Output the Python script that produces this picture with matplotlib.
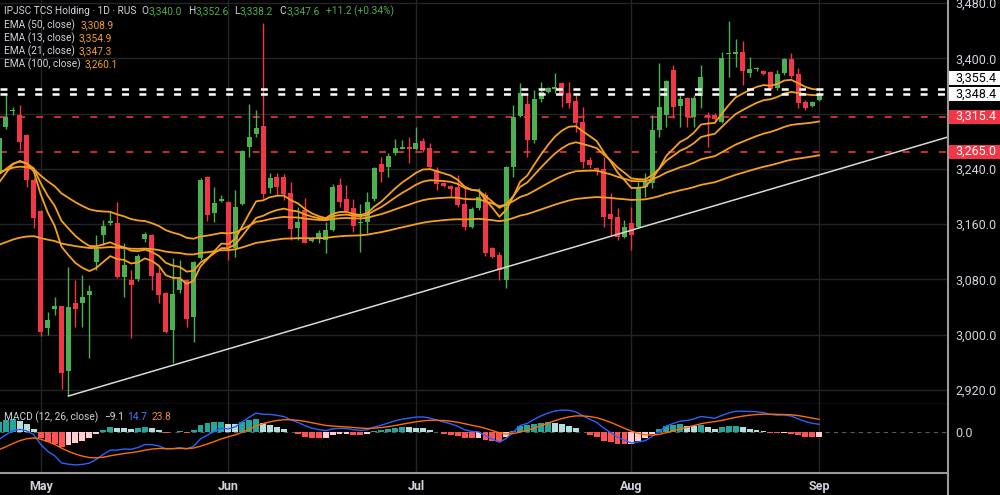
import matplotlib
matplotlib.use("Agg")
import matplotlib.pyplot as plt
from matplotlib.patches import Rectangle
from matplotlib.lines import Line2D
import numpy as np

# ---------------- data ----------------
opens = [3233.5, 3300.1, 3323.7, 3317.9, 3288.9, 3223.8, 3179.3, 3009.0, 3036.5, 3041.3,
         2947.2, 3046.1, 3045.2, 3056.8, 3105.5, 3144.1, 3162.0, 3161.9, 3082.9, 3079.0,
         3080.0, 3138.3, 3144.6, 3089.5, 3059.7, 3006.6, 3064.5, 3079.0, 3025.8, 3110.4,
         3227.7, 3176.4, 3193.4, 3192.3, 3124.9, 3189.4, 3272.0, 3290.4, 3302.0, 3211.7,
         3227.7, 3227.7, 3205.4, 3153.8, 3179.9, 3135.9, 3139.4, 3136.9, 3151.4, 3216.5,
         3195.8, 3182.8, 3161.0, 3163.4, 3195.8, 3246.9, 3242.2, 3262.4, 3269.1, 3272.0,
         3268.2, 3280.7, 3269.7, 3238.3, 3219.0, 3215.1, 3214.1, 3189.0, 3156.2, 3182.8,
         3202.0, 3124.9, 3115.2, 3078.5, 3243.0, 3316.4, 3333.8, 3281.7, 3340.6, 3351.6,
         3355.1, 3363.8, 3349.3, 3338.6, 3308.2, 3252.7, 3241.6, 3239.3, 3174.5, 3170.6,
         3141.7, 3161.9, 3156.2, 3214.1, 3219.9, 3296.2, 3317.9, 3383.0, 3330.9, 3342.1,
         3314.6, 3345.4, 3317.9, 3317.9, 3308.2, 3405.8, 3406.2, 3409.6, 3379.1, 3384.1,
         3382.0, 3380.6, 3356.5, 3379.1, 3398.6, 3377.3, 3337.2, 3330.9, 3340.0]
highs = [3289.0, 3349.3, 3329.9, 3332.4, 3290.0, 3226.0, 3181.0, 3033.1, 3054.8, 3042.0,
         3097.3, 3079.0, 3086.2, 3071.7, 3144.1, 3165.8, 3177.9, 3192.3, 3132.1, 3093.4,
         3116.0, 3148.9, 3146.0, 3098.2, 3061.0, 3110.8, 3107.9, 3080.0, 3107.0, 3226.7,
         3229.0, 3214.1, 3202.0, 3194.0, 3210.0, 3267.0, 3333.8, 3324.6, 3450.7, 3233.5,
         3233.5, 3233.0, 3221.3, 3185.1, 3197.3, 3141.7, 3151.4, 3163.4, 3217.5, 3226.2,
         3216.5, 3195.8, 3189.0, 3206.8, 3243.0, 3257.5, 3262.4, 3282.7, 3281.7, 3286.5,
         3300.1, 3284.6, 3276.9, 3243.0, 3221.3, 3216.5, 3231.0, 3214.1, 3185.1, 3211.7,
         3206.8, 3127.2, 3120.0, 3244.0, 3332.4, 3363.8, 3346.8, 3354.1, 3366.1, 3358.9,
         3378.3, 3366.1, 3366.1, 3346.8, 3329.9, 3256.6, 3243.0, 3257.5, 3205.4, 3182.8,
         3165.8, 3185.1, 3221.3, 3233.5, 3317.9, 3392.8, 3368.6, 3390.3, 3346.8, 3344.4,
         3346.8, 3390.3, 3322.7, 3320.3, 3409.6, 3454.4, 3427.5, 3425.5, 3402.3, 3387.8,
         3383.0, 3382.0, 3383.0, 3400.0, 3408.1, 3385.5, 3339.6, 3338.2, 3352.6]
lows = [3229.6, 3298.3, 3317.9, 3267.2, 3214.1, 3153.8, 2998.2, 2999.3, 3028.3, 2920.7,
        2911.0, 3011.3, 3011.3, 2965.6, 3093.4, 3129.6, 3158.6, 3082.0, 3054.8, 2994.5,
        3078.0, 3134.4, 3064.5, 3045.2, 3001.8, 2958.8, 3059.7, 3011.3, 2989.6, 3107.9,
        3164.8, 3163.4, 3192.0, 3107.9, 3112.7, 3188.0, 3257.5, 3286.0, 3197.3, 3204.5,
        3202.0, 3194.8, 3136.9, 3136.9, 3132.1, 3134.4, 3132.5, 3117.6, 3150.0, 3185.1,
        3175.5, 3148.9, 3118.8, 3146.6, 3193.0, 3221.3, 3228.6, 3260.0, 3268.2, 3247.9,
        3267.2, 3264.3, 3240.7, 3209.3, 3213.6, 3199.6, 3185.1, 3151.4, 3153.8, 3180.4,
        3113.7, 3110.4, 3078.3, 3067.0, 3228.6, 3315.0, 3257.5, 3276.9, 3337.2, 3349.3,
        3349.3, 3329.9, 3327.6, 3293.7, 3240.7, 3240.7, 3231.0, 3156.2, 3144.1, 3136.9,
        3139.4, 3122.4, 3153.8, 3199.6, 3211.7, 3286.5, 3300.9, 3313.1, 3300.9, 3300.9,
        3300.9, 3327.6, 3272.0, 3310.7, 3305.9, 3373.4, 3387.8, 3361.3, 3372.5, 3382.0,
        3375.8, 3354.1, 3354.1, 3375.8, 3371.0, 3327.6, 3325.1, 3329.9, 3338.2]
closes = [3284.1, 3315.4, 3325.8, 3279.2, 3223.8, 3168.3, 3004.1, 3021.0, 3041.3, 2944.7,
          3040.3, 3036.5, 3054.8, 3063.5, 3123.4, 3157.2, 3164.0, 3083.7, 3100.7, 3071.7,
          3113.7, 3145.6, 3084.8, 3057.2, 3004.1, 3058.7, 3080.0, 3022.1, 3105.5, 3223.8,
          3173.1, 3190.9, 3195.9, 3127.2, 3184.2, 3265.3, 3286.5, 3298.6, 3203.0, 3226.2,
          3213.2, 3203.5, 3153.1, 3163.4, 3133.0, 3137.9, 3146.6, 3150.9, 3212.9, 3192.3,
          3179.3, 3157.2, 3163.4, 3192.3, 3240.7, 3235.8, 3259.0, 3269.7, 3271.1, 3268.2,
          3277.8, 3267.2, 3243.0, 3218.0, 3215.1, 3210.3, 3187.6, 3155.3, 3181.3, 3199.6,
          3117.6, 3112.7, 3093.4, 3242.2, 3315.4, 3350.2, 3281.7, 3340.6, 3351.6, 3356.5,
          3358.9, 3346.8, 3334.8, 3305.9, 3250.3, 3245.5, 3237.2, 3169.8, 3166.9, 3140.8,
          3155.3, 3144.1, 3214.1, 3221.3, 3296.2, 3329.9, 3367.5, 3329.0, 3340.6, 3315.4,
          3342.9, 3373.4, 3314.6, 3311.7, 3400.0, 3407.2, 3409.6, 3382.0, 3384.1, 3385.9,
          3377.3, 3355.1, 3377.3, 3398.6, 3374.4, 3334.8, 3327.6, 3336.4, 3347.6]

month_labels = ["May", "Jun", "Jul", "Aug", "Sep"]
month_bar_index = [6, 33, 60, 91, 118]
price_ticks = [2920, 3000, 3080, 3160, 3240, 3320, 3400, 3480]

white_levels = [3355.4, 3348.4]
red_levels = [3315.4, 3265.0]
trend_start = (10, 2911.0)
trend_end = (118, 3231.1)

ema_periods = [50, 13, 21, 100]
ema_seeds = {13: 3220.0, 21: 3232.0, 50: 3235.0, 100: 3130.0}
ema_legend_values = {50: "3,308.9", 13: "3,354.9", 21: "3,347.3", 100: "3,260.1"}
macd_seeds = {"fast": 3220.0, "slow": 3233.0, "signal": -32.0}
macd_legend_values = ["\u22129.1", "14.7", "23.8"]

# ---------------- styling ----------------
plt.rcParams['font.family'] = ["Roboto", "DejaVu Sans"]
plt.rcParams['lines.scale_dashes'] = False
BG = "#000000"
GREEN = "#4caf50"
RED = "#f23645"
EMA_C = "#f5a11c"
GRID = "#242424"
TEXT = "#d1d4dc"
AXLINE = "#9a9a9a"

W, H = 1000, 495
fig = plt.figure(figsize=(W / 100, H / 100), dpi=100, facecolor=BG)
ax = fig.add_axes([0, 1 - 404 / H, 948 / W, 404 / H], facecolor=BG)
axm = fig.add_axes([0, 1 - 473 / H, 948 / W, 69 / H], facecolor=BG, sharex=ax)

n = len(closes)
idx = np.arange(n)
o = np.array(opens); h = np.array(highs); l = np.array(lows); c = np.array(closes)
up = c >= o
cols = np.where(up, GREEN, RED)

# wicks and bodies
ax.vlines(idx, l, h, colors=cols, linewidth=1.0, zorder=3)
body_bot = np.minimum(o, c)
body_h = np.maximum(np.abs(c - o), 1.2)
ax.bar(idx, body_h, bottom=body_bot, width=0.72, color=cols, linewidth=0, zorder=4)


def ema(values, period, seed):
    a = 2.0 / (period + 1)
    out = [seed]
    for v in values[1:]:
        out.append(out[-1] + a * (v - out[-1]))
    return np.array(out)


emas = {p: ema(c, p, ema_seeds[p]) for p in ema_periods}
for p in ema_periods:
    ax.plot(idx, emas[p], color=EMA_C, linewidth=1.3, zorder=5)

# horizontal levels
for lv in white_levels:
    ax.axhline(lv, color="white", linewidth=1.8, linestyle=(0, (5, 7.5)), zorder=6)
for lv in red_levels:
    ax.axhline(lv, color=RED, linewidth=1.3, linestyle=(0, (5, 8)), alpha=0.9, zorder=2)

# trend line
xlim = (0.144, 136.55)
slope = (trend_end[1] - trend_start[1]) / (trend_end[0] - trend_start[0])
ax.plot([trend_start[0], xlim[1]], [trend_start[1], trend_start[1] + slope * (xlim[1] - trend_start[0])],
        color="#d9d9d9", linewidth=1.1, zorder=6)

ax.set_xlim(*xlim)
ax.set_ylim(2899.4, 3484.4)
ax.set_yticks(price_ticks)
ax.set_yticklabels([f"{v:,.1f}" for v in price_ticks])
ax.yaxis.tick_right()
ax.tick_params(axis='y', length=0, pad=5, labelsize=9, labelcolor=TEXT)
ax.set_xticks(month_bar_index)
ax.tick_params(axis='x', length=0, labelbottom=False)
ax.grid(True, color=GRID, linewidth=1.0, zorder=0)
ax.set_axisbelow(True)
for s in ax.spines.values():
    s.set_visible(False)
ax.spines['bottom'].set_visible(True)
ax.spines['bottom'].set_color("#3a3a3a")
ax.spines['bottom'].set_linewidth(1.0)

# ---------------- MACD ----------------
fast = ema(c, 12, macd_seeds["fast"])
slow = ema(c, 26, macd_seeds["slow"])
macd = fast - slow
signal = ema(macd, 9, macd_seeds["signal"])
hist = macd - signal
hcols = []
for i, hv in enumerate(hist):
    prev = hist[i - 1] if i > 0 else hv - 1
    if hv >= 0:
        hcols.append("#26a69a" if hv > prev else "#b2dfdb")
    else:
        hcols.append("#ff5252" if hv < prev else "#ffcdd2")
axm.bar(idx, hist, width=0.85, color=hcols, linewidth=0, zorder=3)
axm.plot(idx, macd, color="#2962ff", linewidth=1.0, zorder=4)
axm.plot(idx, signal, color="#ff6d00", linewidth=1.0, zorder=4)
axm.axhline(0, color="#5a5a5a", linewidth=0.8, linestyle=(0, (3, 3)), zorder=2)
axm.set_ylim(-74.7, 51.9)
axm.set_yticks([0])
axm.set_yticklabels(["0.0"])
axm.yaxis.tick_right()
axm.tick_params(axis='y', length=0, pad=5, labelsize=9, labelcolor=TEXT)
axm.set_xticks(month_bar_index)
axm.set_xticklabels(month_labels)
axm.tick_params(axis='x', length=0, pad=5, labelsize=9, labelcolor=TEXT)
for lab in axm.get_xticklabels():
    lab.set_fontweight("semibold")
axm.grid(True, axis='x', color=GRID, linewidth=1.0, zorder=0)
axm.set_axisbelow(True)
for s in axm.spines.values():
    s.set_visible(False)
axm.spines['bottom'].set_visible(True)
axm.spines['bottom'].set_color(AXLINE)
axm.spines['bottom'].set_linewidth(1.5)

# right axis separator line across whole height
fig.add_artist(Line2D([948 / W, 948 / W], [0, 1], transform=fig.transFigure, color=AXLINE, linewidth=1.5))

# ---------------- price tags ----------------
fig.canvas.draw()


def fig_y(price):
    return ax.transData.transform((0, price))[1] / H


def tag(price_y, text, face, fcol):
    fig.add_artist(Rectangle((949 / W, price_y - 7 / H), 51 / W, 14 / H, transform=fig.transFigure,
                             facecolor=face, edgecolor="none", zorder=10))
    fig.text(955 / W, price_y, text, color=fcol, fontsize=9, va="center", ha="left", zorder=11)


y_a = fig_y(white_levels[0]) + 11 / H
y_b = fig_y(white_levels[1])
tag(y_a, f"{white_levels[0]:,.1f}", "white", "black")
tag(y_b, f"{white_levels[1]:,.1f}", "white", "black")
for lv in red_levels:
    tag(fig_y(lv), f"{lv:,.1f}", RED, "white")

# ---------------- legends ----------------
def px(x, y):
    return x / W, 1 - y / H


fs = 7.3
pieces = [(4, "IPJSC TCS Holding \u00b7 1D \u00b7 RUS", TEXT),
          (141, "O", TEXT), (149, f"{opens[-1]:,.1f}", GREEN),
          (188, "H", TEXT), (196, f"{highs[-1]:,.1f}", GREEN),
          (234, "L", TEXT), (240, f"{lows[-1]:,.1f}", GREEN),
          (279, "C", TEXT), (287, f"{closes[-1]:,.1f}", GREEN),
          (326, f"+{closes[-1]-closes[-2]:.1f} (+{(closes[-1]-closes[-2])/closes[-2]*100:.2f}%)", GREEN)]
for x, t, col in pieces:
    fig.text(*px(x, 11.5), t, color=col, fontsize=fs, va="center", ha="left")

ema_rows = [(50, 25, 81), (13, 38.3, 79), (21, 51.7, 79), (100, 64.3, 85)]
for p, yy, vx in ema_rows:
    fig.text(*px(4, yy), f"EMA ({p}, close)", color=TEXT, fontsize=fs, va="center", ha="left")
    fig.text(*px(vx, yy), ema_legend_values[p], color=EMA_C, fontsize=fs, va="center", ha="left")

fig.text(*px(4, 417), "MACD (12, 26, close)", color=TEXT, fontsize=fs, va="center", ha="left")
for x, t, col in [(104, macd_legend_values[0], "#e6dada"), (127, macd_legend_values[1], "#4a78ff"),
                  (151, macd_legend_values[2], "#f08a3c")]:
    fig.text(*px(x, 417), t, color=col, fontsize=fs, va="center", ha="left")

fig.savefig("out.png", dpi=100, facecolor=BG)
